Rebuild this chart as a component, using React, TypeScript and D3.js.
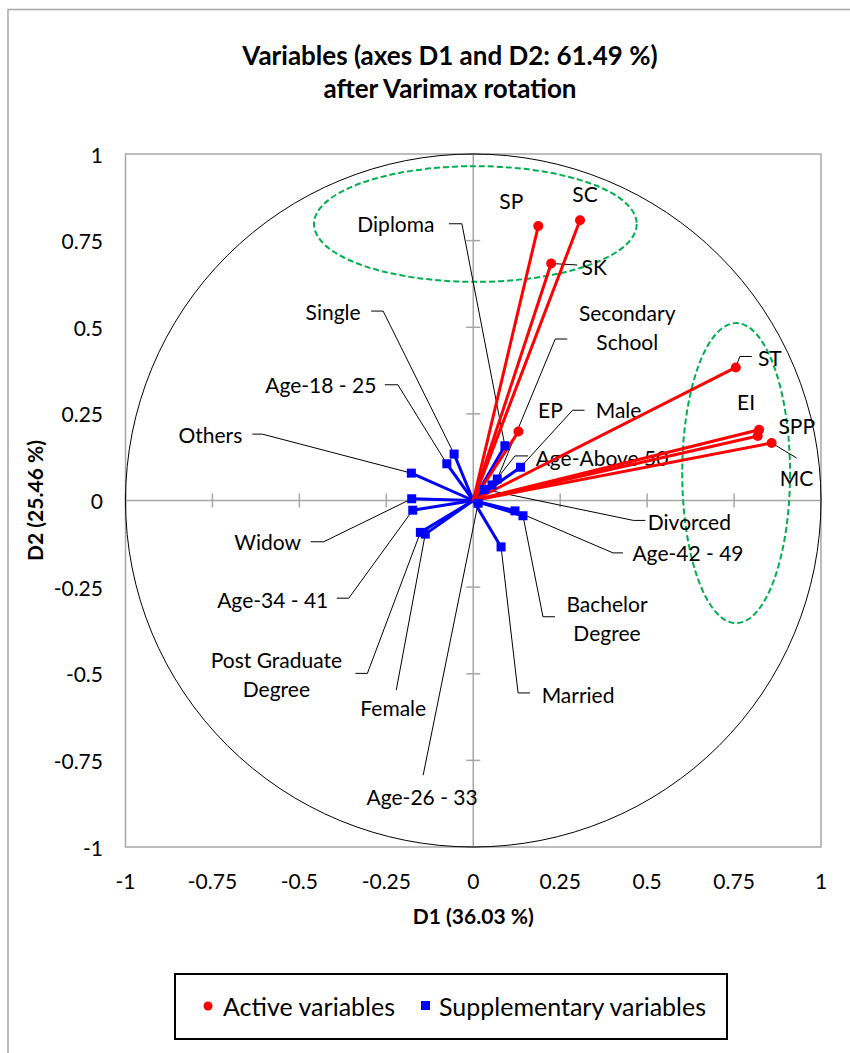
import React from "react";
import * as d3 from "d3";

// active variables (red)
const activeNames = ["SP", "SC", "SK", "ST", "EI", "SPP", "MC", "EP"];
const activeD1 = [0.187, 0.307, 0.224, 0.755, 0.822, 0.818, 0.858, 0.13];
const activeD2 = [0.792, 0.809, 0.684, 0.384, 0.204, 0.186, 0.166, 0.199];

// supplementary variables (blue)
const suppNames = [
  "Others", "Age-18 - 25", "Single", "Diploma", "Widow", "Age-34 - 41",
  "Post Graduate Degree", "Female", "Age-26 - 33", "Married", "Bachelor Degree",
  "Age-42 - 49", "Divorced", "Secondary School", "Male", "Age-Above 50",
];
const suppD1 = [-0.178, -0.076, -0.055, 0.091, -0.177, -0.174, -0.152, -0.138, 0.014, 0.08, 0.143, 0.12, 0.032, 0.069, 0.136, 0.054];
const suppD2 = [0.079, 0.106, 0.134, 0.158, 0.005, -0.028, -0.092, -0.097, -0.008, -0.134, -0.044, -0.03, 0.032, 0.062, 0.096, 0.045];

const tickValues = [-1, -0.75, -0.5, -0.25, 0, 0.25, 0.5, 0.75, 1];
const tickLabels = ["-1", "-0.75", "-0.5", "-0.25", "0", "0.25", "0.5", "0.75", "1"];

// highlighted groups (dashed green ellipses): cx, cy, rx, ry in axis units
const groups = [
  [0.006, 0.798, 0.464, 0.167],
  [0.756, 0.079, 0.155, 0.433],
];

// label placement, pixel offsets from the point: text centre, then leader (label end, elbow)
const labelPos: Record<string, { t: number[]; lines?: string[]; lead?: number[][] }> = {
  SP: { t: [-27, -26] },
  SC: { t: [5, -27] },
  SK: { t: [43, 3.5], lead: [[26, 1.5]] },
  ST: { t: [34, -10], lead: [[16, -11], [4, -11]] },
  EI: { t: [-13, -28] },
  SPP: { t: [39, -11] },
  MC: { t: [25, 35], lead: [[25, 15]] },
  EP: { t: [32, -22] },
  Others: { t: [-201, -39], lead: [[-159, -39], [-149, -39]] },
  "Age-18 - 25": { t: [-126, -79], lead: [[-62, -79], [-49, -79]] },
  Single: { t: [-121, -143], lead: [[-83, -143], [-71, -143]] },
  Diploma: { t: [-109, -222], lead: [[-56, -222], [-43, -222]] },
  Widow: { t: [-144, 43], lead: [[-101, 43], [-88, 43]] },
  "Age-34 - 41": { t: [-140, 89], lead: [[-76, 88], [-64, 88]] },
  "Post Graduate Degree": { t: [-144, 142], lines: ["Post Graduate", "Degree"], lead: [[-65, 141], [-53, 141]] },
  Female: { t: [-32, 173], lead: [[-29, 156]] },
  "Age-26 - 33": { t: [-56, 293], lead: [[-55, 272]] },
  Married: { t: [77, 148], lead: [[29, 146], [17, 146]] },
  "Bachelor Degree": { t: [84, 102], lines: ["Bachelor", "Degree"], lead: [[32, 101], [20, 101]] },
  "Age-42 - 49": { t: [173, 42], lead: [[108, 42], [98, 42]] },
  Divorced: { t: [205, 32], lead: [[161, 31], [149, 31]] },
  "Secondary School": { t: [130, -152], lines: ["Secondary", "School"], lead: [[70, -140], [58, -140]] },
  Male: { t: [98, -58], lead: [[64, -57], [52, -57]] },
  "Age-Above 50": { t: [110, -27], lead: [[36, -29], [23, -29]] },
};

const FONT = "Lato, 'Open Sans', sans-serif";

export default function App() {
  const W = 850, H = 1053;
  const x = d3.scaleLinear().domain([-1, 1]).range([125.5, 821]);
  const y = d3.scaleLinear().domain([-1, 1]).range([847, 154]);
  const x0 = x(0), y0 = y(0);

  const active = activeNames.map((n, i) => ({ name: n, px: x(activeD1[i]), py: y(activeD2[i]) }));
  const supp = suppNames.map((n, i) => ({ name: n, px: x(suppD1[i]), py: y(suppD2[i]) }));

  const renderLabel = (d: { name: string; px: number; py: number }) => {
    const p = labelPos[d.name];
    if (!p) return null;
    const lines = p.lines || [d.name];
    const lh = 29;
    const cx = d.px + p.t[0], cy = d.py + p.t[1];
    let lead = null;
    if (p.lead) {
      const pts = p.lead.map((o) => [d.px + o[0], d.py + o[1]] as [number, number]);
      pts.push([d.px, d.py]);
      lead = <path d={d3.line()(pts) || ""} fill="none" stroke="#000" strokeWidth={1} />;
    }
    return (
      <g key={"l" + d.name}>
        {lead}
        {lines.map((s, k) => (
          <text key={k} x={cx} y={cy + (k - (lines.length - 1) / 2) * lh} textAnchor="middle"
            dominantBaseline="central" fontSize={21} fill="#000">{s}</text>
        ))}
      </g>
    );
  };

  return (
    <svg width={W} height={H} style={{ position: "absolute", left: 0, top: 0 }} fontFamily={FONT}>
      <rect x={0} y={0} width={W} height={H} fill="#fff" />
      {/* outer chart border */}
      <path d={`M8,${H} V9.5 H${W}`} fill="none" stroke="#a6a6a6" strokeWidth={1.5} />

      {/* title */}
      <text x={450} y={55} textAnchor="middle" dominantBaseline="central" fontSize={26} fontWeight="bold">
        Variables (axes D1 and D2: 61.49 %)
      </text>
      <text x={450} y={88} textAnchor="middle" dominantBaseline="central" fontSize={26} fontWeight="bold">
        after Varimax rotation
      </text>

      {/* plot frame */}
      <rect x={x(-1)} y={y(1)} width={x(1) - x(-1)} height={y(-1) - y(1)} fill="none" stroke="#a6a6a6" strokeWidth={1.5} />

      {/* axes through the origin */}
      <line x1={x(-1)} x2={x(1)} y1={y0} y2={y0} stroke="#a6a6a6" strokeWidth={1.5} />
      <line x1={x0} x2={x0} y1={y(-1)} y2={y(1)} stroke="#a6a6a6" strokeWidth={1.5} />
      {tickValues.map((t) => (
        <g key={"t" + t}>
          <line x1={x(t)} x2={x(t)} y1={y0 - 7} y2={y0 + 7} stroke="#a6a6a6" strokeWidth={1.5} />
          <line x1={x0 - 7} x2={x0 + 7} y1={y(t)} y2={y(t)} stroke="#a6a6a6" strokeWidth={1.5} />
        </g>
      ))}
      {tickValues.map((t, i) => (
        <text key={"xl" + t} x={x(t)} y={880} textAnchor="middle" dominantBaseline="central" fontSize={21}>
          {tickLabels[i]}
        </text>
      ))}
      {tickValues.map((t, i) => (
        <text key={"yl" + t} x={103} y={y(t)} textAnchor="end" dominantBaseline="central" fontSize={21}>
          {tickLabels[i]}
        </text>
      ))}

      {/* axis titles */}
      <text x={x0} y={915} textAnchor="middle" dominantBaseline="central" fontSize={21} fontWeight="bold">
        D1 (36.03 %)
      </text>
      <text transform={`translate(34,${y0}) rotate(-90)`} textAnchor="middle" dominantBaseline="central"
        fontSize={21} fontWeight="bold">
        D2 (25.46 %)
      </text>

      {/* correlation circle */}
      <ellipse cx={x0} cy={y0} rx={x(1) - x0} ry={y0 - y(1)} fill="none" stroke="#000" strokeWidth={1} />

      {/* group ellipses */}
      {groups.map((g, i) => (
        <ellipse key={"g" + i} cx={x(g[0])} cy={y(g[1])} rx={x(g[2]) - x0} ry={y0 - y(g[3])}
          fill="none" stroke="#00b050" strokeWidth={2} strokeDasharray="6,3" />
      ))}

      {/* leaders and labels */}
      {active.map(renderLabel)}
      {supp.map(renderLabel)}

      {/* vectors */}
      {supp.map((d) => (
        <line key={"sv" + d.name} x1={x0} y1={y0} x2={d.px} y2={d.py} stroke="#0000ff" strokeWidth={3} />
      ))}
      {active.map((d) => (
        <line key={"av" + d.name} x1={x0} y1={y0} x2={d.px} y2={d.py} stroke="#ff0000" strokeWidth={3} />
      ))}
      {supp.map((d) => (
        <rect key={"sp" + d.name} x={d.px - 4.5} y={d.py - 4.5} width={9} height={9} fill="#0000ff" />
      ))}
      {active.map((d) => (
        <circle key={"ap" + d.name} cx={d.px} cy={d.py} r={5} fill="#ff0000" />
      ))}

      {/* legend */}
      <rect x={175} y={974} width={552} height={65} fill="#fff" stroke="#000" strokeWidth={2} />
      <circle cx={208} cy={1006} r={4.5} fill="#ff0000" />
      <text x={223} y={1006} dominantBaseline="central" fontSize={25}>Active variables</text>
      <rect x={421} y={1001} width={9} height={9} fill="#0000ff" />
      <text x={439} y={1006} dominantBaseline="central" fontSize={25}>Supplementary variables</text>
    </svg>
  );
}
